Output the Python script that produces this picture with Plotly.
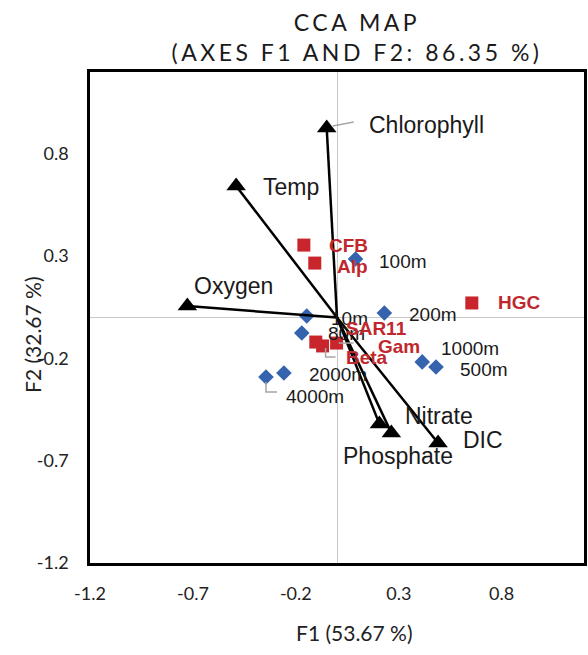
import plotly.graph_objects as go

# Environmental variables (arrows)
env_names = ["Chlorophyll", "Temp", "Oxygen", "Nitrate", "Phosphate", "DIC"]
env_x = [-0.05, -0.49, -0.727, 0.206, 0.264, 0.491]
env_y = [0.926, 0.643, 0.056, -0.52, -0.564, -0.613]

# Sampling depths (blue diamonds)
depth_names = ["100m", "200m", "1000m", "500m", "10m", "80m", "2000m", "4000m"]
depth_x = [0.09, 0.23, 0.414, 0.481, -0.147, -0.171, -0.258, -0.345]
depth_y = [0.286, 0.022, -0.217, -0.242, 0.007, -0.076, -0.271, -0.291]

# Taxa (red squares)
taxa_names = ["CFB", "Alp", "HGC", "SAR11", "Beta", "Gam"]
taxa_x = [-0.161, -0.108, 0.655, -0.103, -0.07, -0.002]
taxa_y = [0.354, 0.266, 0.071, -0.12, -0.139, -0.125]

tick_vals = [-1.2, -0.7, -0.2, 0.3, 0.8]
tick_text = ["-1.2", "-0.7", "-0.2", "0.3", "0.8"]

# label offsets (pixels): (xshift, yshift)
env_off = {"Chlorophyll": (40, 3), "Temp": (25, -1), "Oxygen": (5, 20),
           "Nitrate": (24, 8), "Phosphate": (-50, -23), "DIC": (23, 3)}
depth_off = {"100m": (21, -3), "200m": (23, -1), "1000m": (17, 13), "500m": (22, -2),
             "10m": (22, -2), "80m": (24, 0), "2000m": (23, -2), "4000m": (18, -19)}
taxa_off = {"CFB": (23, 0), "Alp": (20, -3), "HGC": (24, 0), "SAR11": (28, 14),
            "Beta": (21, -12), "Gam": (39, -3)}

BLUE = "#3563AE"
RED = "#C8262C"
RED_TXT = "#C0282D"
GRAY = "#A6A6A6"
TXT = "#222222"

fig = go.Figure()

fig.add_trace(go.Scatter(x=depth_x, y=depth_y, mode="markers",
                         marker=dict(symbol="diamond", size=12, color=BLUE),
                         hoverinfo="skip", showlegend=False))
fig.add_trace(go.Scatter(x=taxa_x, y=taxa_y, mode="markers",
                         marker=dict(symbol="square", size=13, color=RED),
                         hoverinfo="skip", showlegend=False))

for ex, ey in zip(env_x, env_y):
    fig.add_trace(go.Scatter(x=[0, ex], y=[0, ey], mode="lines",
                             line=dict(color="black", width=2.5),
                             hoverinfo="skip", showlegend=False))
fig.add_trace(go.Scatter(x=env_x, y=env_y, mode="markers",
                         marker=dict(symbol="triangle-up", size=17, color="black"),
                         hoverinfo="skip", showlegend=False))

ann = []
for n, x, y in zip(env_names, env_x, env_y):
    dx, dy = env_off[n]
    ann.append(dict(x=x, y=y, text=n, showarrow=False, xanchor="left", yanchor="middle",
                    xshift=dx, yshift=dy,
                    font=dict(family="Liberation Sans, Arial", size=23, color="#1a1a1a")))
for n, x, y in zip(depth_names, depth_x, depth_y):
    dx, dy = depth_off[n]
    ann.append(dict(x=x, y=y, text=n, showarrow=False, xanchor="left", yanchor="middle",
                    xshift=dx, yshift=dy,
                    font=dict(family="Liberation Sans, Arial", size=19, color="#1a1a1a")))
for n, x, y in zip(taxa_names, taxa_x, taxa_y):
    dx, dy = taxa_off[n]
    ann.append(dict(x=x, y=y, text="<b>" + n + "</b>", showarrow=False, xanchor="left",
                    yanchor="middle", xshift=dx, yshift=dy,
                    font=dict(family="Liberation Sans, Arial", size=19, color=RED_TXT)))

# axis titles
ann.append(dict(text="F1 (53.67 %)", xref="paper", yref="paper", x=(356 - 90) / 497, y=0,
                yanchor="middle", xanchor="center", yshift=-69, showarrow=False,
                font=dict(family="Lato", size=21, color=TXT)))
ann.append(dict(text="F2 (32.67 %)", xref="paper", yref="paper", x=0, y=(563 - 335) / 491,
                xanchor="center", yanchor="middle", xshift=-58, textangle=-90, showarrow=False,
                font=dict(family="Lato", size=21, color=TXT)))

shapes = []
def leader(px, py, path):
    shapes.append(dict(type="path", xsizemode="pixel", ysizemode="pixel",
                       xanchor=px, yanchor=py, path=path,
                       line=dict(color=GRAY, width=1.5), layer="above"))

i = env_names.index("Chlorophyll")
leader(env_x[i], env_y[i], "M 6 2 L 27 6")
i = depth_names.index("4000m")
leader(depth_x[i], depth_y[i], "M 0 -5 L 0 -15 L 11 -15")
i = taxa_names.index("Beta")
leader(taxa_x[i], taxa_y[i], "M 3 -2 L 3 -11 L 13 -11")
i = taxa_names.index("Gam")
leader(taxa_x[i], taxa_y[i], "M 2 0 L 17 0")

fig.update_layout(
    width=588, height=655,
    margin=dict(l=90, r=1, t=72, b=92),
    paper_bgcolor="white", plot_bgcolor="white",
    title=dict(text="CCA MAP<br>(AXES F1 AND F2: 86.35 %)",
               x=357 / 588, xanchor="center", xref="container",
               y=1 - 31 / 655, yanchor="middle", yref="container",
               font=dict(family="Lato", size=23, color="#1a1a1a")),
    annotations=ann, shapes=shapes,
    showlegend=False,
)

axis_common = dict(range=[-1.2, 1.2], tickvals=tick_vals, ticktext=tick_text,
                   showgrid=False, zeroline=True, zerolinecolor="#C8C8C8", zerolinewidth=1,
                   showline=True, linecolor="black", linewidth=2.5, mirror=True,
                   ticks="", tickfont=dict(family="Lato", size=18, color=TXT))
fig.update_xaxes(**axis_common, ticklabelstandoff=13)
fig.update_yaxes(**axis_common, ticklabelstandoff=15)

css = (".gtitle{letter-spacing:3.5px;}")
post = ("var s=document.createElement('style');s.innerHTML='" + css + "';"
        "document.head.appendChild(s);")
fig.write_html("out.html", post_script=post)
